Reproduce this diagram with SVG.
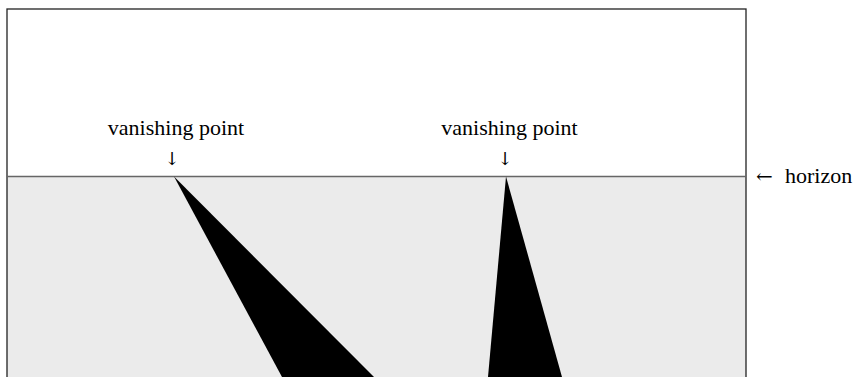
<svg xmlns="http://www.w3.org/2000/svg" width="854" height="377" viewBox="0 0 854 377">
<style>
.lbl{font-family:"Liberation Serif","Times New Roman",serif;font-size:22px;fill:#000}
.arr{font-family:"DejaVu Serif","DejaVu Sans",serif;font-size:18px;fill:#000}
.tri{fill:#000}
</style>
<rect x="0" y="0" width="854" height="377" fill="#fff"/>
<g id="ground">
<rect x="7" y="176.5" width="739" height="210" fill="#ebebeb"/>
</g>
<g id="frame">
<rect x="7" y="9" width="739" height="380" fill="none" stroke="#222" stroke-width="1.3"/>
</g>
<g id="horizon">
<line x1="7" y1="176.5" x2="746" y2="176.5" stroke="#666" stroke-width="1.5"/>
<text class="lbl" x="756" y="183"><tspan class="arr" style="font-size:20px">←</tspan><tspan x="785">horizon</tspan></text>
</g>
<g id="road1">
<polygon class="tri" points="174,176.5 282,377 374,377"/>
</g>
<g id="road2">
<polygon class="tri" points="506,176.5 488,377 562,377"/>
</g>
<g id="vp1">
<text class="lbl" x="176" y="135" text-anchor="middle">vanishing point</text>
<text class="arr" x="172" y="165" text-anchor="middle">↓</text>
</g>
<g id="vp2">
<text class="lbl" x="509.5" y="135" text-anchor="middle">vanishing point</text>
<text class="arr" x="505" y="165" text-anchor="middle">↓</text>
</g>
</svg>
